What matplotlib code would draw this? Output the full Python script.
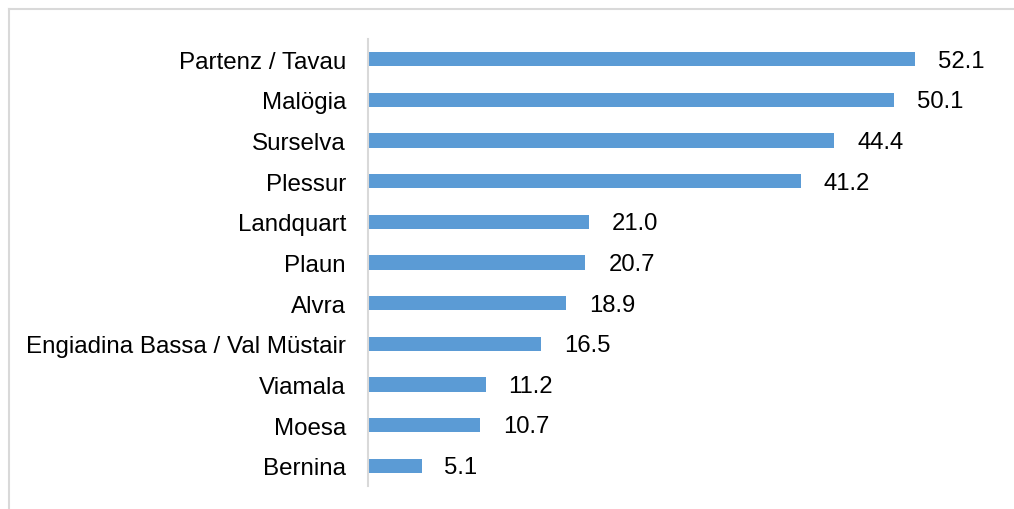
import matplotlib.pyplot as plt
from matplotlib.lines import Line2D

# === データ ===
regions = ['Partenz / Tavau', 'Malögia', 'Surselva', 'Plessur', 'Landquart', 'Plaun',
           'Alvra', 'Engiadina Bassa / Val Müstair', 'Viamala', 'Moesa', 'Bernina']
values = [52.1, 50.1, 44.4, 41.2, 21.0, 20.7, 18.9, 16.5, 11.2, 10.7, 5.1]

plt.rcParams['font.family'] = ['Liberation Sans', 'DejaVu Sans']

fig = plt.figure(figsize=(10.14, 5.10), dpi=100)
W, H = 1014, 510

# 外枠 (上と左だけ見える)
fx, fy = 8.5 / W, 1 - 9.5 / H
fig.lines.append(Line2D([fx, 1.0], [fy, fy], transform=fig.transFigure,
                        color='#D9D9D9', linewidth=1.5))
fig.lines.append(Line2D([fx, fx], [0.0, fy], transform=fig.transFigure,
                        color='#D9D9D9', linewidth=1.5))

ax = fig.add_axes([368 / W, 1 - 487 / H, (1005 - 368) / W, (487 - 40) / H])

y = list(range(len(regions)))
ax.barh(y, values, height=0.35, color='#5B9BD5', zorder=2)

for yi, v in zip(y, values):
    ax.annotate(f'{v:.1f}', xy=(v, yi), xytext=(16.5, -1), textcoords='offset points',
                ha='left', va='center', fontsize=17.2, color='black')

ax.set_yticks(y)
ax.set_yticklabels(regions, fontsize=17.4)
ax.set_ylim(len(regions) - 0.5, -0.5)
ax.set_xlim(0, (1005 - 368) / 10.5)
ax.tick_params(axis='y', length=0, pad=15.8)
ax.set_xticks([])

for s in ['top', 'right', 'bottom']:
    ax.spines[s].set_visible(False)
ax.spines['left'].set_color('#D9D9D9')
ax.spines['left'].set_linewidth(1.5)
ax.patch.set_alpha(0)

fig.savefig('out.png', dpi=100)
